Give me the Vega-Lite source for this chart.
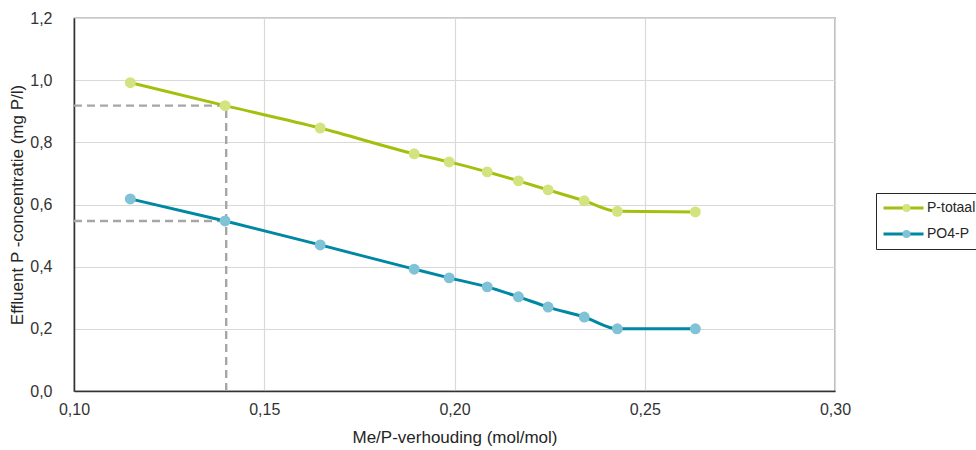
{
  "$schema": "https://vega.github.io/schema/vega-lite/v6.json",
  "width": 761,
  "height": 373,
  "autosize": {"type": "none"},
  "padding": {"left": 74, "top": 18, "right": 141, "bottom": 59},
  "background": "white",
  "config": {
    "font": "Liberation Sans",
    "view": {"stroke": "#262626", "strokeWidth": 1.2},
    "axis": {
      "domainColor": "#333333",
      "domainWidth": 1.5,
      "gridColor": "#d9d9d9",
      "gridWidth": 1.2,
      "ticks": false,
      "tickSize": 0,
      "labelFlush": false,
      "labelFont": "Liberation Sans",
      "labelFontSize": 16,
      "labelColor": "#333333",
      "titleFont": "Liberation Sans",
      "titleFontSize": 17,
      "titleFontWeight": "normal",
      "titleColor": "#262626"
    }
  },
  "datasets": {
    "series": [
      {"ratio": 0.1148, "conc": 0.992, "series": "P-totaal", "key": "P-totaal"},
      {"ratio": 0.1397, "conc": 0.918, "series": "P-totaal", "key": "P-totaal"},
      {"ratio": 0.1647, "conc": 0.846, "series": "P-totaal", "key": "P-totaal"},
      {"ratio": 0.1894, "conc": 0.763, "series": "P-totaal", "key": "P-totaal"},
      {"ratio": 0.1986, "conc": 0.737, "series": "P-totaal", "key": "P-totaal"},
      {"ratio": 0.2086, "conc": 0.705, "series": "P-totaal", "key": "P-totaal"},
      {"ratio": 0.2168, "conc": 0.676, "series": "P-totaal", "key": "P-totaal"},
      {"ratio": 0.2246, "conc": 0.647, "series": "P-totaal", "key": "P-totaal"},
      {"ratio": 0.2341, "conc": 0.612, "series": "P-totaal", "key": "P-totaal"},
      {"ratio": 0.2428, "conc": 0.578, "series": "P-totaal", "key": "P-totaal"},
      {"ratio": 0.2633, "conc": 0.576, "series": "P-totaal", "key": "P-totaal"},
      {"ratio": 0.1148, "conc": 0.618, "series": "PO4-P", "key": "PO4-P"},
      {"ratio": 0.1397, "conc": 0.547, "series": "PO4-P", "key": "PO4-P"},
      {"ratio": 0.1647, "conc": 0.470, "series": "PO4-P", "key": "PO4-P"},
      {"ratio": 0.1894, "conc": 0.392, "series": "PO4-P", "key": "PO4-P"},
      {"ratio": 0.1986, "conc": 0.364, "series": "PO4-P", "key": "PO4-P"},
      {"ratio": 0.2086, "conc": 0.335, "series": "PO4-P", "key": "PO4-P"},
      {"ratio": 0.2168, "conc": 0.303, "series": "PO4-P", "key": "PO4-P"},
      {"ratio": 0.2246, "conc": 0.270, "series": "PO4-P", "key": "PO4-P"},
      {"ratio": 0.2341, "conc": 0.238, "series": "PO4-P", "key": "PO4-P"},
      {"ratio": 0.2428, "conc": 0.200, "series": "PO4-P", "key": "PO4-P"},
      {"ratio": 0.2633, "conc": 0.200, "series": "PO4-P", "key": "PO4-P"}
    ],
    "guides": [
      {"x": 0.10, "x2": 0.14, "y": 0.918, "y2": 0.918},
      {"x": 0.10, "x2": 0.14, "y": 0.547, "y2": 0.547},
      {"x": 0.14, "x2": 0.14, "y": 0.0, "y2": 0.918}
    ]
  },
  "layer": [
    {
      "data": {"name": "guides"},
      "mark": {"type": "rule", "color": "#a6a6a6", "strokeWidth": 2.4, "strokeDash": [8, 5]},
      "encoding": {
        "x": {"field": "x", "type": "quantitative",
          "scale": {"domain": [0.1, 0.3], "nice": false, "zero": false},
          "axis": {"values": [0.1, 0.15, 0.2, 0.25, 0.3], "labelExpr": "replace(format(datum.value, '.2f'), '.', ',')", "labelPadding": 10, "title": "Me/P-verhouding (mol/mol)", "titlePadding": 12}},
        "x2": {"field": "x2"},
        "y": {"field": "y", "type": "quantitative",
          "scale": {"domain": [0, 1.2], "nice": false, "zero": true},
          "axis": {"values": [0, 0.2, 0.4, 0.6, 0.8, 1.0, 1.2], "labelExpr": "replace(format(datum.value, '.1f'), '.', ',')", "labelPadding": 22, "title": "Effluent P -concentratie (mg P/l)", "titlePadding": 3}},
        "y2": {"field": "y2"}
      }
    },
    {
      "data": {"name": "series"},
      "mark": {"type": "line", "strokeWidth": 3, "interpolate": "monotone"},
      "encoding": {
        "x": {"field": "ratio", "type": "quantitative"},
        "y": {"field": "conc", "type": "quantitative"},
        "stroke": {"field": "series", "type": "nominal",
          "scale": {"range": ["#a2c00e", "#0087a3"]},
          "legend": {"title": null, "orient": "none", "legendX": 802, "legendY": 175,
            "symbolType": "stroke", "symbolSize": 1600, "symbolStrokeWidth": 3,
            "clipHeight": 18, "rowPadding": 8, "padding": 6, "strokeColor": "#262626",
            "labelFontSize": 14, "labelColor": "#262626", "labelOffset": 2}}
      }
    },
    {
      "data": {"name": "series"},
      "mark": {"type": "point", "filled": true, "opacity": 1, "size": 120},
      "encoding": {
        "x": {"field": "ratio", "type": "quantitative"},
        "y": {"field": "conc", "type": "quantitative"},
        "fill": {"field": "key", "type": "nominal",
          "scale": {"range": ["#d4e37f", "#80c2d6"]},
          "legend": {"title": null, "orient": "none", "legendX": 819.5, "legendY": 175,
            "symbolType": "circle", "symbolSize": 64, "symbolStrokeWidth": 0,
            "clipHeight": 18, "rowPadding": 8, "padding": 6,
            "labelExpr": "''", "labelFontSize": 14}}
      }
    }
  ]
}
